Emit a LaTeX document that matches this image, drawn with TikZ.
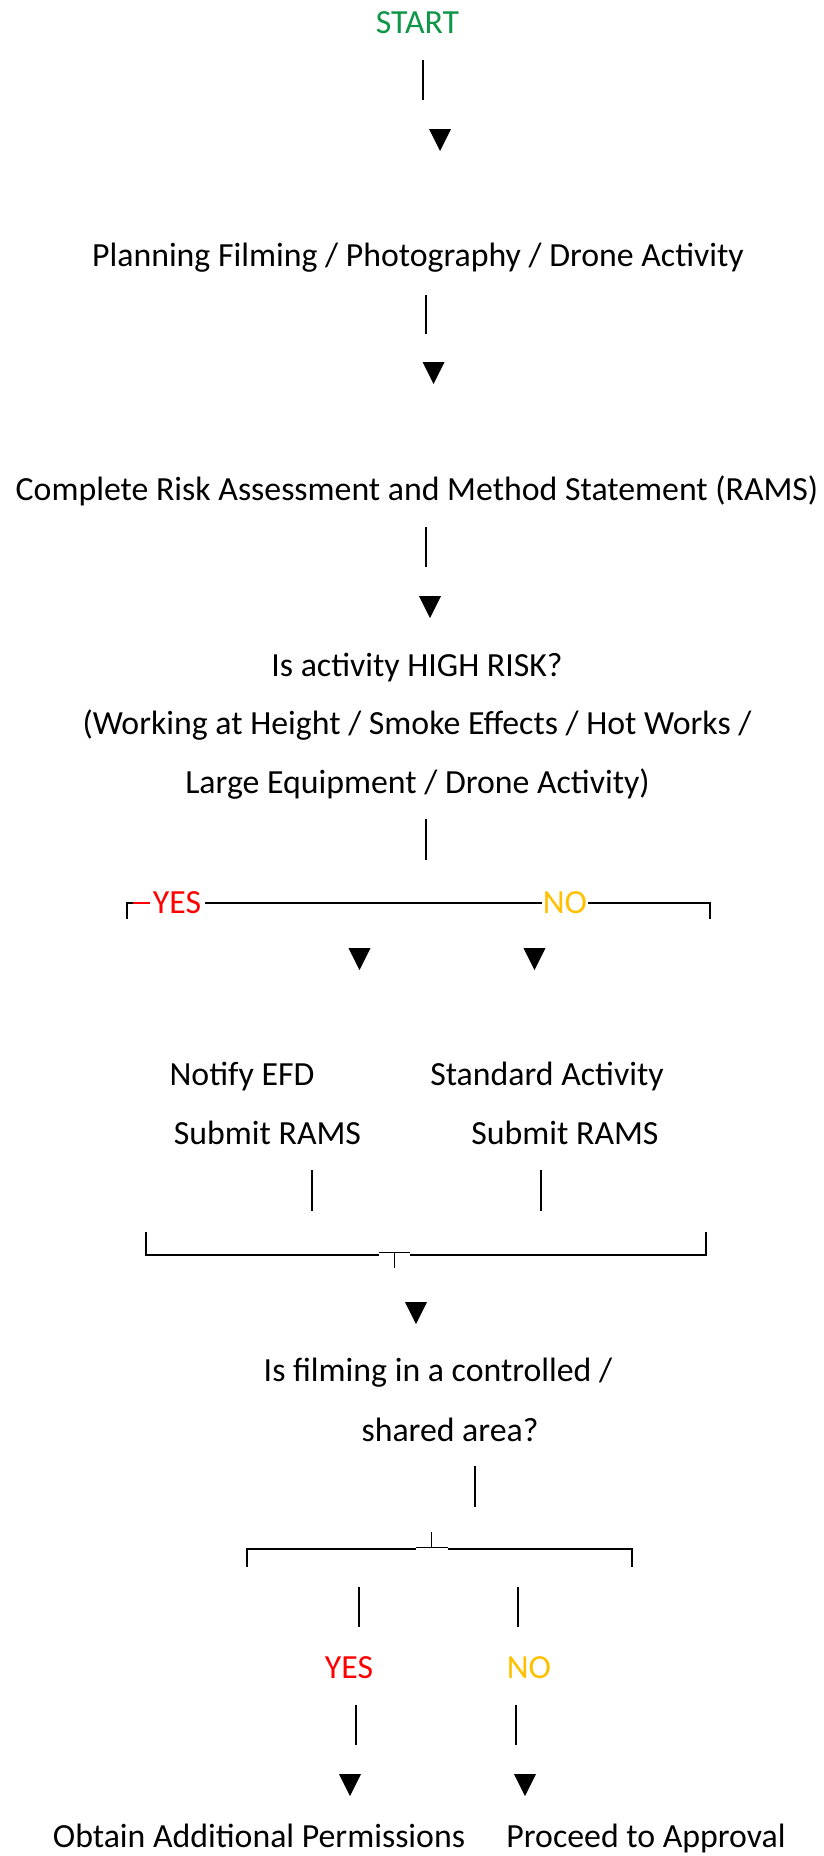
\documentclass[tikz,border=0pt]{standalone}
\usepackage{fontspec}
\setmainfont{Carlito}
\definecolor{startgreen}{RGB}{16,150,72}
\definecolor{yesred}{RGB}{255,0,0}
\definecolor{nogold}{RGB}{255,192,0}
\begin{document}
\begin{tikzpicture}[x=1pt,y=-1pt,
  txt/.style={anchor=base, inner sep=0pt, font=\fontsize{33.8}{40}\selectfont},
  bar/.style={line width=1.8pt},
  rule/.style={line width=1.5pt},
  downtri/.pic={\fill (-11,-11) -- (11,-11) -- (0,11) -- cycle;}]
\useasboundingbox (0,0) rectangle (823,1856);

% texts
\node[txt, text=startgreen] (start) at (417.5,33) {START};
\node[txt] (plan) at (418,266.5) {Planning Filming / Photography / Drone Activity};
\node[txt] (rams) at (417,500.5) {Complete Risk Assessment and Method Statement (RAMS)};
\node[txt] (q1a) at (417,676) {Is activity HIGH RISK?};
\node[txt] (q1b) at (417,734) {(Working at Height / Smoke Effects / Hot Works /};
\node[txt] (q1c) at (417.5,793.5) {Large Equipment / Drone Activity)};
\node[txt, text=yesred] (yes1) at (177,913) {YES};
\node[txt, text=nogold] (no1) at (565,913) {NO};
\node[txt] (notify) at (242,1085) {Notify EFD};
\node[txt] (std) at (547,1085) {Standard Activity};
\node[txt] (subl) at (267.5,1144) {Submit RAMS};
\node[txt] (subr) at (565,1144) {Submit RAMS};
\node[txt] (q2a) at (438,1381) {Is filming in a controlled /};
\node[txt] (q2b) at (450,1441) {shared area?};
\node[txt, text=yesred] (yes2) at (349,1678) {YES};
\node[txt, text=nogold] (no2) at (529,1678) {NO};
\node[txt] (obtain) at (259,1847) {Obtain Additional Permissions};
\node[txt] (proceed) at (646,1847) {Proceed to Approval};

% vertical bars
\coordinate (b1t) at (423,60);   \coordinate (b1b) at (423,100);
\coordinate (b2t) at (426,295);  \coordinate (b2b) at (426,334);
\coordinate (b3t) at (426,527);  \coordinate (b3b) at (426,567);
\coordinate (b4t) at (426,819);  \coordinate (b4b) at (426,860);
\coordinate (b5t) at (312,1170); \coordinate (b5b) at (312,1211);
\coordinate (b6t) at (541,1170); \coordinate (b6b) at (541,1211);
\coordinate (b7t) at (475,1466); \coordinate (b7b) at (475,1507);
\coordinate (b8t) at (359,1587); \coordinate (b8b) at (359,1627);
\coordinate (b9t) at (518,1587); \coordinate (b9b) at (518,1627);
\coordinate (b10t) at (356,1705); \coordinate (b10b) at (356,1745);
\coordinate (b11t) at (516,1705); \coordinate (b11b) at (516,1745);
\foreach \i in {1,...,11} {\draw[bar] (b\i t) -- (b\i b);}

% triangles
\pic at (440,140) {downtri};
\pic at (433.5,373) {downtri};
\pic at (430,607) {downtri};
\pic at (359.5,959) {downtri};
\pic at (534.5,959) {downtri};
\pic at (416,1313) {downtri};
\pic at (350,1785) {downtri};
\pic at (525,1785) {downtri};

% first branch line
\coordinate (l1a) at (127,919);
\coordinate (l1b) at (127,903);
\coordinate (l1c) at (133,903);
\coordinate (l1d) at (150,903);
\coordinate (l1e) at (205,903);
\coordinate (l1f) at (542,903);
\coordinate (l1g) at (588,903);
\coordinate (l1h) at (710,903);
\coordinate (l1i) at (710,919);
\draw[rule] (l1a) -- (l1b) -- (l1c);
\draw[rule, yesred] (l1c) -- (l1d);
\draw[rule] (l1e) -- (l1f);
\draw[rule] (l1g) -- (l1h) -- (l1i);

% first joining bracket
\coordinate (j1a) at (146,1232);
\coordinate (j1b) at (146,1255);
\coordinate (j1c) at (379,1255);
\coordinate (j1d) at (379,1252);
\coordinate (j1e) at (410,1252);
\coordinate (j1f) at (410,1255);
\coordinate (j1g) at (706,1255);
\coordinate (j1h) at (706,1232);
\coordinate (j1s) at (394,1252);
\coordinate (j1t) at (394,1268);
\draw[rule] (j1a) -- (j1b) -- (j1c);
\draw[line width=1pt] (j1d) -- (j1e);
\draw[line width=1pt] (j1s) -- (j1t);
\draw[rule] (j1f) -- (j1g) -- (j1h);

% second splitting bracket
\coordinate (j2a) at (247,1567);
\coordinate (j2b) at (247,1549);
\coordinate (j2c) at (416,1549);
\coordinate (j2d) at (416,1547);
\coordinate (j2e) at (448,1547);
\coordinate (j2f) at (448,1549);
\coordinate (j2g) at (632,1549);
\coordinate (j2h) at (632,1567);
\coordinate (j2s) at (431,1532);
\coordinate (j2t) at (431,1547);
\draw[rule] (j2a) -- (j2b) -- (j2c);
\draw[line width=1pt] (j2d) -- (j2e);
\draw[line width=1pt] (j2s) -- (j2t);
\draw[rule] (j2f) -- (j2g) -- (j2h);
\end{tikzpicture}
\end{document}
